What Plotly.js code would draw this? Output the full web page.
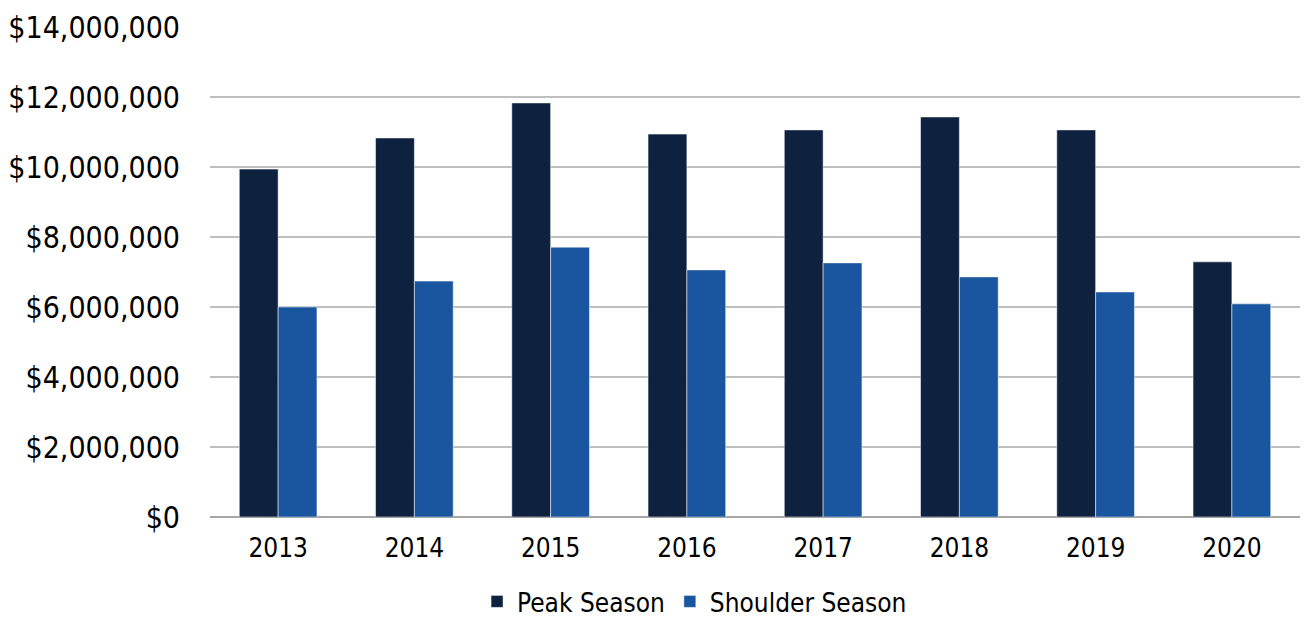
<!DOCTYPE html>
<html>
<head>
<meta charset="utf-8">
<script src="https://cdn.plot.ly/plotly-3.0.1.min.js"></script>
<style>html,body{margin:0;padding:0;background:#fff;}#chart{width:1306px;height:619px;}</style>
</head>
<body>
<div id="chart"></div>
<script>
const years = ["2013","2014","2015","2016","2017","2018","2019","2020"];
const peakSeason = [9940000, 10830000, 11830000, 10940000, 11060000, 11430000, 11060000, 7290000];
const shoulderSeason = [6000000, 6740000, 7710000, 7060000, 7260000, 6860000, 6430000, 6090000];
const yTicks = [0, 2000000, 4000000, 6000000, 8000000, 10000000, 12000000, 14000000];
const yTickLabels = ["$0","$2,000,000","$4,000,000","$6,000,000","$8,000,000","$10,000,000","$12,000,000","$14,000,000"];

const FONT = "DejaVu Sans Condensed, DejaVu Sans, sans-serif";

const data = [
  {type:"bar", name:"Peak Season", x:years, y:peakSeason,
   marker:{color:"#0e2240", line:{color:"#ffffff", width:0.5}}},
  {type:"bar", name:"Shoulder Season", x:years, y:shoulderSeason,
   marker:{color:"#1a56a0", line:{color:"#ffffff", width:0.5}}}
];

const layout = {
  width:1306, height:619,
  margin:{l:210, r:6, t:27, b:102, autoexpand:false},
  paper_bgcolor:"#ffffff", plot_bgcolor:"#ffffff",
  font:{family:FONT, color:"#000000", size:25},
  barmode:"group", bargap:0.43, bargroupgap:0,
  showlegend:true,
  legend:{orientation:"h", x:0.245, xanchor:"left", y:-0.2204, yanchor:"bottom",
          font:{family:FONT, size:26, color:"#000"}, traceorder:"normal"},
  xaxis:{type:"category", tickfont:{family:FONT, size:26},
         ticks:"outside", ticklen:8, tickcolor:"rgba(0,0,0,0)",
         showgrid:false, showline:false, zeroline:false},
  yaxis:{range:[0,14000000], tickmode:"array", tickvals:yTicks, ticktext:yTickLabels,
         tickfont:{family:FONT, size:30},
         ticks:"outside", ticklen:23, tickcolor:"rgba(0,0,0,0)",
         showgrid:true, gridcolor:"#bfbfbf", gridwidth:1.5,
         zeroline:true, zerolinecolor:"#a6a6a6", zerolinewidth:2,
         showline:false}
};

Plotly.newPlot("chart", data, layout, {displayModeBar:false, staticPlot:true});
</script>
</body>
</html>
